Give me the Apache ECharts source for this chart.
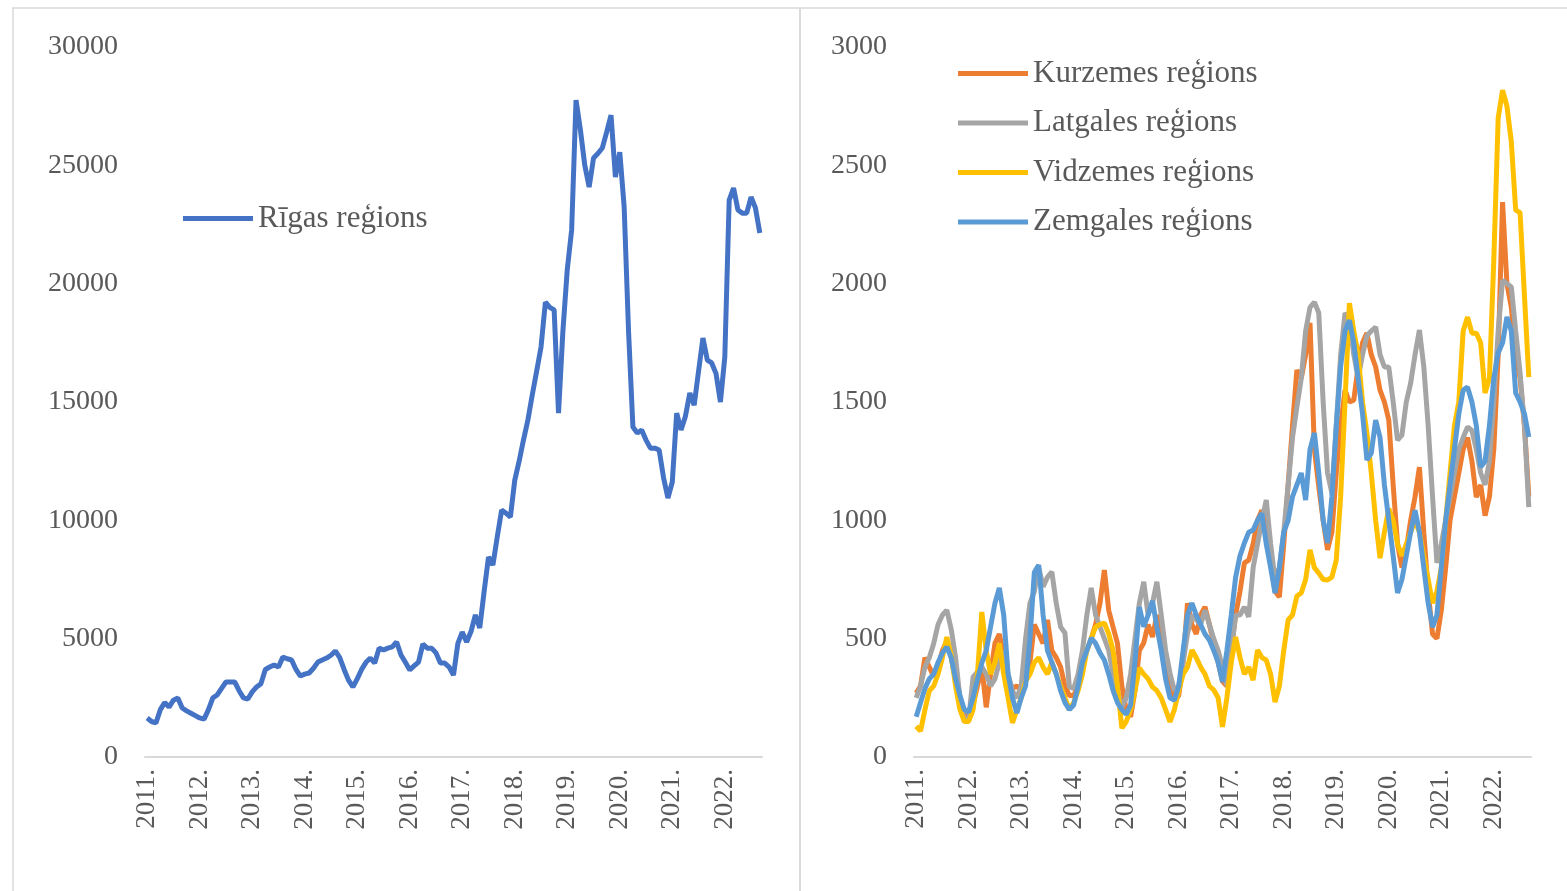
<!DOCTYPE html>
<html>
<head>
<meta charset="utf-8">
<script src="https://cdn.jsdelivr.net/npm/echarts@6/dist/echarts.min.js"></script>
<style>
  html, body { margin: 0; padding: 0; background: #fff; }
  #main { width: 1567px; height: 891px; }
</style>
</head>
<body>
<div id="main"></div>
<script>
// monthly data, 2011.01 - 2022.09
var years = ['2011', '2012', '2013', '2014', '2015', '2016', '2017', '2018', '2019', '2020', '2021', '2022'];
var months = ['01', '02', '03', '04', '05', '06', '07', '08', '09', '10', '11', '12'];
var categories = [];
years.forEach(function (y) {
    months.forEach(function (m) {
        if (y === '2022' && m > '09') return;
        categories.push(y + '.' + m);
    });
});

var rigaName = 'Rīgas reģions';
var regionNames = ['Kurzemes reģions', 'Latgales reģions', 'Vidzemes reģions', 'Zemgales reģions'];

var riga = [
    1650, 1500, 1440, 2000, 2300, 2110, 2400, 2490, 2070, 1950, 1850, 1750,
    1650, 1600, 2000, 2500, 2620, 2900, 3170, 3170, 3170, 2800, 2500, 2450,
    2750, 2960, 3100, 3700, 3800, 3890, 3800, 4220, 4150, 4100, 3700, 3420,
    3500, 3550, 3750, 4010, 4100, 4180, 4300, 4480, 4200, 3700, 3250, 2960,
    3300, 3700, 4000, 4180, 3970, 4600, 4520, 4600, 4650, 4860, 4310, 4000,
    3680, 3850, 4010, 4770, 4600, 4600, 4400, 3970, 3970, 3800, 3460, 4800,
    5280, 4860, 5300, 6000, 5450, 7000, 8450, 8110, 9300, 10430, 10300, 10140,
    11700, 12500, 13400, 14240, 15300, 16300, 17320, 19220, 19000, 18890, 14530, 18000,
    20600, 22270, 27760, 26500, 25000, 24080, 25310, 25500, 25730, 26400, 27120, 24500,
    25560, 23240, 18000, 13940, 13690, 13820, 13390, 13050, 13050, 12970, 11800, 10940,
    11620, 14530, 13820, 14400, 15380, 14870, 16300, 17700, 16770, 16650, 16200, 15000,
    16900, 23530, 24040, 23110, 22980, 22980, 23660, 23200, 22140
];

var kurzeme = [
    270, 300, 420, 380, 340, 380, 450, 490, 420, 330, 220, 180,
    180, 220, 300, 380, 210, 350, 480, 520, 430, 330, 290, 300,
    280, 320, 400, 560, 520, 480, 579, 450, 420, 380, 300, 260,
    260, 300, 420, 450, 500, 560, 650, 790, 620, 549, 480, 300,
    200, 170, 280, 450, 482, 560, 507, 600, 520, 400, 300, 240,
    260, 400, 650, 560, 520, 600, 634, 560, 480, 400, 320, 300,
    450, 600, 700, 820, 832, 900, 1000, 1043, 950, 850, 700, 676,
    900, 1150, 1400, 1635, 1600, 1700, 1834, 1300, 1141, 1000, 875, 950,
    1200, 1400, 1550, 1500, 1508, 1650, 1750, 1791, 1700, 1648, 1550, 1500,
    1424, 1150, 900, 800, 880, 1000, 1100, 1225, 950, 700, 520, 500,
    620, 800, 1000, 1100, 1200, 1300, 1350, 1250, 1098, 1150, 1020, 1100,
    1300, 1700, 2345, 2000, 1900, 1700, 1600, 1400, 1100
];

var latgale = [
    250, 300, 380, 420, 480, 560, 600, 621, 540, 420, 250, 148,
    160, 338, 360, 380, 350, 300, 330, 400, 450, 350, 280, 250,
    300, 500, 650, 700, 800, 720, 760, 782, 650, 550, 524, 296,
    290, 350, 450, 600, 714, 600, 550, 500, 450, 350, 280, 211,
    250, 350, 500, 650, 740, 600, 650, 740, 600, 450, 355, 280,
    300, 400, 520, 600, 580, 560, 620, 560, 500, 450, 380, 300,
    450, 600, 600, 634, 592, 800, 900, 1000, 1086, 900, 750, 800,
    950, 1150, 1350, 1479, 1600, 1800, 1900, 1922, 1876, 1500, 1200, 1115,
    1400, 1700, 1876, 1850, 1700, 1600, 1700, 1780, 1800, 1817, 1700, 1648,
    1648, 1500, 1339, 1360, 1500, 1580, 1700, 1804, 1650, 1400, 1100, 820,
    900, 1000, 1100, 1200, 1300, 1350, 1394, 1380, 1300, 1200, 1150, 1250,
    1500, 1800, 2015, 2000, 1986, 1800, 1622, 1400, 1056
];

var vidzeme = [
    130, 110, 200, 280, 300, 350, 420, 507, 430, 300, 200, 150,
    150, 200, 350, 613, 450, 350, 400, 480, 350, 250, 144, 200,
    250, 320, 350, 400, 420, 380, 350, 400, 350, 300, 250, 200,
    230, 280, 350, 450, 500, 550, 560, 566, 520, 450, 300, 122,
    150, 200, 280, 376, 350, 330, 296, 280, 250, 200, 148, 200,
    280, 350, 380, 452, 420, 380, 350, 300, 283, 250, 127, 250,
    400, 507, 420, 350, 380, 325, 452, 420, 410, 350, 232, 300,
    450, 579, 600, 680, 693, 750, 875, 800, 777, 750, 748, 760,
    832, 1100, 1500, 1918, 1800, 1700, 1500, 1369, 1200, 1000, 840, 950,
    1050, 1000, 900, 850, 900, 950, 1000, 950, 850, 750, 650, 700,
    800, 1000, 1200, 1400, 1500, 1800, 1859, 1791, 1791, 1750, 1538, 1600,
    2100, 2700, 2818, 2750, 2600, 2311, 2300, 1950, 1605
];

var zemgale = [
    170, 230, 290, 330, 350, 400, 440, 465, 420, 330, 260, 200,
    190, 250, 330, 397, 450, 550, 650, 714, 600, 350, 250, 186,
    250, 300, 500, 780, 811, 600, 450, 400, 350, 280, 230, 200,
    220, 300, 400, 450, 502, 480, 440, 410, 350, 280, 230, 200,
    180, 220, 400, 634, 550, 600, 660, 550, 450, 330, 250, 240,
    300, 450, 600, 650, 600, 560, 520, 494, 450, 400, 317, 450,
    600, 760, 850, 904, 950, 959, 1000, 1030, 900, 800, 693, 800,
    950, 1000, 1100, 1150, 1200, 1086, 1300, 1369, 1200, 1000, 904, 1100,
    1400, 1650, 1800, 1846, 1750, 1600, 1450, 1255, 1284, 1424, 1350, 1150,
    1000, 850, 693, 750, 850, 950, 1043, 950, 800, 650, 549, 600,
    800, 1000, 1150, 1300, 1450, 1550, 1563, 1500, 1400, 1225, 1250, 1400,
    1600, 1707, 1750, 1859, 1800, 1538, 1500, 1450, 1352
];

var regionData = [kurzeme, latgale, vidzeme, zemgale];
var regionColors = ['#ED7D31', '#A5A5A5', '#FFC000', '#5B9BD5'];

var font = "'Liberation Serif', 'Times New Roman', serif";
var labelColor = '#595959';

function xAxisFor(idx) {
    return {
        type: 'category',
        gridIndex: idx,
        data: categories,
        boundaryGap: true,
        axisLine: {lineStyle: {color: '#d9d9d9', width: 2}},
        axisTick: {show: false},
        axisLabel: {
            interval: 11,
            rotate: 90,
            margin: 12,
            color: labelColor,
            fontFamily: font,
            fontSize: 27,
            formatter: function (v) {
                return v.slice(0, 5);
            }
        }
    };
}

function yAxisFor(idx, max, step) {
    return {
        type: 'value',
        gridIndex: idx,
        min: 0,
        max: max,
        interval: step,
        axisLine: {show: false},
        axisTick: {show: false},
        splitLine: {show: false},
        axisLabel: {
            margin: 27,
            color: labelColor,
            fontFamily: font,
            fontSize: 28,
            formatter: function (v) {
                return String(v);
            }
        }
    };
}

var series = [{
    name: rigaName,
    type: 'line',
    xAxisIndex: 0,
    yAxisIndex: 0,
    data: riga,
    showSymbol: false,
    lineStyle: {width: 5, color: '#4472C4'},
    itemStyle: {color: '#4472C4'}
}];

regionNames.forEach(function (name, i) {
    series.push({
        name: name,
        type: 'line',
        xAxisIndex: 1,
        yAxisIndex: 1,
        data: regionData[i],
        showSymbol: false,
        lineStyle: {width: 5, color: regionColors[i]},
        itemStyle: {color: regionColors[i]}
    });
});

var chart = echarts.init(document.getElementById('main'));
chart.setOption({
    animation: false,
    backgroundColor: '#fff',
    graphic: [
        {type: 'rect', shape: {x: 13, y: 8, width: 787, height: 900}, style: {fill: 'none', stroke: '#d9d9d9', lineWidth: 1.5}},
        {type: 'rect', shape: {x: 800, y: 8, width: 800, height: 900}, style: {fill: 'none', stroke: '#d9d9d9', lineWidth: 1.5}}
    ],
    grid: [
        {left: 145, top: 47, width: 617, height: 710},
        {left: 914, top: 47, width: 617, height: 710}
    ],
    xAxis: [xAxisFor(0), xAxisFor(1)],
    yAxis: [yAxisFor(0, 30000, 5000), yAxisFor(1, 3000, 500)],
    legend: [
        {
            data: [rigaName],
            left: 183,
            top: 203,
            padding: 0,
            icon: 'rect',
            itemWidth: 70,
            itemHeight: 5,
            textStyle: {color: labelColor, fontFamily: font, fontSize: 31}
        },
        {
            data: regionNames,
            orient: 'vertical',
            left: 958,
            top: 58,
            padding: 0,
            itemGap: 18.5,
            icon: 'rect',
            itemWidth: 70,
            itemHeight: 5,
            textStyle: {color: labelColor, fontFamily: font, fontSize: 31}
        }
    ],
    series: series
});
</script>
</body>
</html>
